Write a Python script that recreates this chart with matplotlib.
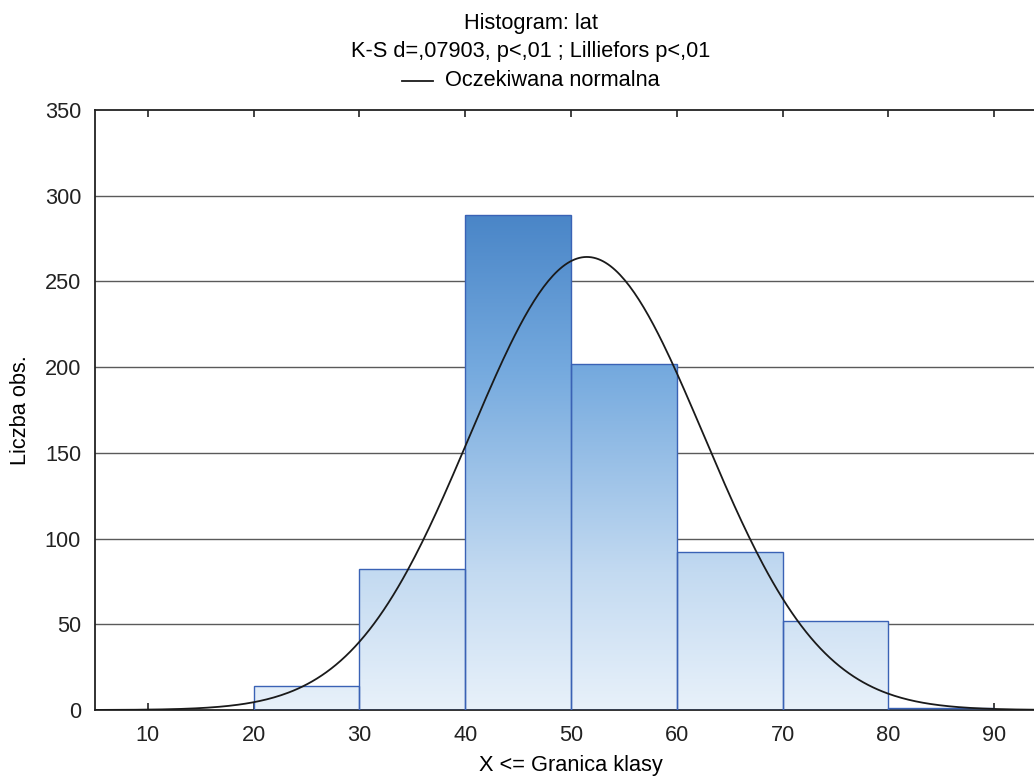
import numpy as np
import matplotlib.pyplot as plt
from matplotlib.colors import LinearSegmentedColormap
from matplotlib.patches import Rectangle
from matplotlib.lines import Line2D

plt.rcParams['font.family'] = ['Liberation Sans', 'DejaVu Sans']

# %% data
bin_left = [20, 30, 40, 50, 60, 70, 80]
counts = [14, 82, 289, 202, 92, 52, 1]
bin_width = 10
# expected normal: parameters (peak ~51.5, height ~264)
norm_mean = 51.5
norm_sd = 11.05
n_obs = 732

title_lines = ['Histogram: lat', 'K-S d=,07903, p<,01 ; Lilliefors p<,01']
legend_label = 'Oczekiwana normalna'
xticks = [10, 20, 30, 40, 50, 60, 70, 80, 90]
yticks = [0, 50, 100, 150, 200, 250, 300, 350]
fs = 15.7

# %% figure
fig = plt.figure(figsize=(10.34, 7.8), dpi=100)
ax = fig.add_axes([95 / 1034, 1 - 710 / 780, (1047 - 95) / 1034, 600 / 780])
ax.set_xlim(5, 95)
ax.set_ylim(0, 350)

for y in yticks[1:-1]:
    ax.axhline(y, color='#5a5a5a', lw=1.0, zorder=0)

cmap = LinearSegmentedColormap.from_list(
    'bars', [(0, '#e8f1fa'), (80 / 290, '#c3daf1'), (200 / 290, '#74a9de'), (1, '#4985c7')])
grad = np.linspace(0, 1, 256).reshape(-1, 1)
for left, c in zip(bin_left, counts):
    rect = Rectangle((left, 0), bin_width, c, facecolor='none', edgecolor='#3a62b5', lw=1.0, zorder=3)
    ax.add_patch(rect)
    im = ax.imshow(grad, cmap=cmap, origin='lower', extent=(bin_left[0], bin_left[-1] + bin_width, 0, 290),
                   aspect='auto', zorder=2, interpolation='bilinear')
    im.set_clip_path(rect)

xs = np.linspace(5, 95, 400)
ys = n_obs * bin_width / (norm_sd * np.sqrt(2 * np.pi)) * np.exp(-0.5 * ((xs - norm_mean) / norm_sd) ** 2)
ax.plot(xs, ys, color='#1a1a1a', lw=1.3, zorder=4)

ax.set_xlim(5, 95)
ax.set_ylim(0, 350)
ax.set_xticks(xticks)
ax.set_yticks(yticks)
ax.tick_params(axis='both', direction='in', length=5, width=1.2, labelsize=fs, colors='#222222')
ax.tick_params(axis='x', top=True, pad=11)
ax.tick_params(axis='y', length=0, pad=10)
for s in ax.spines.values():
    s.set_linewidth(1.3)
    s.set_color('#222222')

fig.text(571 / 1034, 1 - 766 / 780, 'X <= Granica klasy', ha='center', va='center', fontsize=fs)
fig.text(21 / 1034, 1 - 410 / 780, 'Liczba obs.', ha='center', va='center', rotation=90, fontsize=fs)

fig.text(531 / 1034, 1 - 23 / 780, title_lines[0], ha='center', va='center', fontsize=fs)
fig.text(531 / 1034, 1 - 52 / 780, title_lines[1], ha='center', va='center', fontsize=fs)
fig.add_artist(Line2D([402 / 1034, 433 / 1034], [1 - 81 / 780, 1 - 81 / 780], color='#1a1a1a', lw=1.3))
fig.text(445 / 1034, 1 - 80 / 780, legend_label, ha='left', va='center', fontsize=fs)

plt.savefig('out.png', dpi=100)
